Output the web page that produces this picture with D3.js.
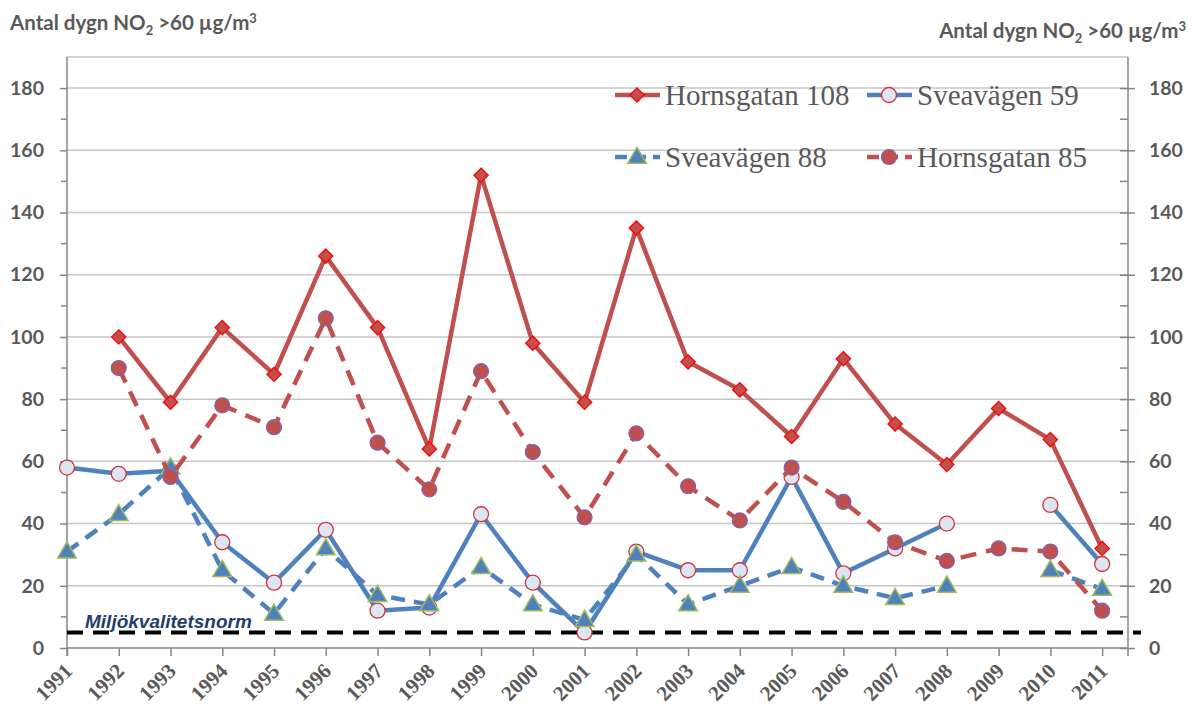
<!DOCTYPE html>
<html>
<head>
<meta charset="utf-8">
<script src="https://cdn.jsdelivr.net/npm/d3@7"></script>
<style>
  body { margin: 0; background: #fff; }
</style>
</head>
<body>
<div id="chart"></div>
<script>
// data
const years = ['1991','1992','1993','1994','1995','1996','1997','1998','1999','2000','2001',
               '2002','2003','2004','2005','2006','2007','2008','2009','2010','2011']
const horns108 = [null,100,79,103,88,126,103,64,152,98,79,135,92,83,68,93,72,59,77,67,32]
const svea59   = [58,56,57,34,21,38,12,13,43,21,5,31,25,25,55,24,32,40,null,46,27]
const svea88   = [31,43,58,25,11,32,17,14,26,14,9,30,14,20,26,20,16,20,null,25,19]
const horns85  = [null,90,55,78,71,106,66,51,89,63,42,69,52,41,58,47,34,28,32,31,12]
const yTicks = [0,20,40,60,80,100,120,140,160,180]
const normValue = 5

const w = 1192
const h = 708
const margin = { top: 57, right: 64, bottom: 60, left: 67 }
const innerBottom = 648

const svg = d3.select('#chart')
  .append('svg')
  .attr('width', w)
  .attr('height', h)

const xScale = d3.scaleLinear()
  .domain([0, 20.5])
  .range([margin.left, w - margin.right])

const yScale = d3.scaleLinear()
  .domain([0, 190])
  .range([innerBottom, margin.top])

const xPos = (d, i) => xScale(i)
const gray = '#595959'
const axisGray = '#868686'

// gridlines
svg.append('g')
  .selectAll('line')
  .data(yTicks.filter(t => t > 0).concat([190]))
  .enter()
  .append('line')
  .attr('x1', xScale.range()[0])
  .attr('x2', xScale.range()[1])
  .attr('y1', d => yScale(d))
  .attr('y2', d => yScale(d))
  .attr('stroke', '#c6c6c6')
  .attr('stroke-width', 1.5)

// y axes
const minor = d3.range(10, 190, 20)
const leftAxis = svg.append('g')
  .attr('transform', 'translate(' + margin.left + ',0)')
  .call(d3.axisLeft(yScale).tickValues(yTicks).tickSize(7).tickPadding(16))
leftAxis.append('g').selectAll('line').data(minor).enter().append('line')
  .attr('x1', -6).attr('x2', 0).attr('y1', d => yScale(d)).attr('y2', d => yScale(d))
const rightAxis = svg.append('g')
  .attr('transform', 'translate(' + xScale.range()[1] + ',0)')
  .call(d3.axisRight(yScale).tickValues(yTicks).tickSize(7).tickPadding(14))
rightAxis.selectAll('.tick line').attr('x1', -8)
rightAxis.append('g').selectAll('line').data(minor).enter().append('line')
  .attr('x1', -8).attr('x2', 0).attr('y1', d => yScale(d)).attr('y2', d => yScale(d))

;[leftAxis, rightAxis].forEach(ax => {
  ax.select('.domain').attr('d', 'M0,' + yScale(190) + 'V' + (innerBottom + 8))
  ax.selectAll('line, path').attr('stroke', axisGray).attr('stroke-width', 1.5)
  ax.selectAll('text')
    .attr('font-family', 'Lato, "Open Sans", sans-serif')
    .attr('font-weight', 'bold')
    .attr('font-size', 19.5)
    .attr('fill', gray)
})

// x axis
const xAxis = svg.append('g')
  .attr('transform', 'translate(0,' + innerBottom + ')')
  .call(d3.axisBottom(xScale).tickValues(d3.range(0, 21)).tickSize(8).tickFormat(i => years[i]))
xAxis.select('.domain').attr('d', 'M' + xScale.range()[0] + ',0H' + xScale.range()[1])
xAxis.selectAll('line, path').attr('stroke', axisGray).attr('stroke-width', 1.5)
xAxis.selectAll('text')
  .attr('font-family', '"Liberation Serif", "Times New Roman", serif')
  .attr('font-weight', 'bold')
  .attr('font-size', 21)
  .attr('fill', gray)
  .attr('text-anchor', 'end')
  .attr('x', 0)
  .attr('y', 0)
  .attr('dy', '0.35em')
  .attr('transform', 'translate(1,19) rotate(-45)')

// norm line
svg.append('line')
  .attr('x1', xScale(0))
  .attr('x2', xScale(20.75))
  .attr('y1', yScale(normValue))
  .attr('y2', yScale(normValue))
  .attr('stroke', '#000')
  .attr('stroke-width', 4)
  .attr('stroke-dasharray', '16,10')

svg.append('text')
  .attr('x', 85)
  .attr('y', 628)
  .attr('font-family', '"Liberation Sans", Arial, sans-serif')
  .attr('font-weight', 'bold')
  .attr('font-style', 'italic')
  .attr('font-size', 19)
  .attr('fill', '#1f3d6e')
  .text('Miljökvalitetsnorm')

// series
const series = [
  { name: 'Hornsgatan 108', values: horns108, color: '#c0504d', dash: null, marker: 'diamond' },
  { name: 'Sveavägen 59', values: svea59, color: '#4f81bd', dash: null, marker: 'circle' },
  { name: 'Sveavägen 88', values: svea88, color: '#4f81bd', dash: '14,9', marker: 'triangle' },
  { name: 'Hornsgatan 85', values: horns85, color: '#c0504d', dash: '16,10', marker: 'dot' }
]

function drawMarker(g, type, x, y) {
  if (type === 'diamond') {
    g.append('path')
      .attr('d', d3.symbol().type(d3.symbolDiamond2).size(130)())
      .attr('transform', 'translate(' + x + ',' + y + ')')
      .attr('fill', '#c0504d').attr('stroke', '#ff0000').attr('stroke-width', 1.3)
  } else if (type === 'circle') {
    g.append('circle').attr('cx', x).attr('cy', y).attr('r', 7.5)
      .attr('fill', '#dce6f2').attr('stroke', '#d0373a').attr('stroke-width', 1.3)
  } else if (type === 'triangle') {
    g.append('path')
      .attr('d', d3.symbol().type(d3.symbolTriangle).size(150)())
      .attr('transform', 'translate(' + x + ',' + (y + 1) + ')')
      .attr('fill', '#4f81bd').attr('stroke', '#9bbb59').attr('stroke-width', 1.5)
  } else {
    g.append('circle').attr('cx', x).attr('cy', y).attr('r', 7.5)
      .attr('fill', '#c0504d').attr('stroke', '#7f63b0').attr('stroke-width', 1.2)
  }
}

const line = d3.line()
  .defined(d => d != null)
  .x(xPos)
  .y(d => yScale(d))

series.forEach(s => {
  const g = svg.append('g')
  g.append('path')
    .datum(s.values)
    .attr('d', line)
    .attr('fill', 'none')
    .attr('stroke', s.color)
    .attr('stroke-width', 4.5)
    .attr('stroke-linejoin', 'round')
    .attr('stroke-dasharray', s.dash)
  s.values.forEach((v, i) => {
    if (v != null) drawMarker(g, s.marker, xScale(i), yScale(v))
  })
})

// legend
const legendPos = [[615, 95], [867, 95], [615, 157], [867, 157]]
series.forEach((s, i) => {
  const [lx, ly] = legendPos[i]
  const g = svg.append('g')
  g.append('line')
    .attr('x1', lx).attr('x2', lx + 45).attr('y1', ly).attr('y2', ly)
    .attr('stroke', s.color).attr('stroke-width', 4.5)
    .attr('stroke-dasharray', s.dash ? '12,7' : null)
  drawMarker(g, s.marker, lx + 22, ly)
  g.append('text')
    .attr('x', lx + 50)
    .attr('y', ly + 10)
    .attr('font-family', '"Liberation Serif", "Times New Roman", serif')
    .attr('font-size', 29)
    .attr('fill', gray)
    .text(s.name)
})

// axis titles
function axisTitle(x, y, anchor) {
  const t = svg.append('text')
    .attr('x', x).attr('y', y)
    .attr('text-anchor', anchor)
    .attr('font-family', 'Lato, "Open Sans", sans-serif')
    .attr('font-weight', 'bold')
    .attr('font-size', 20.5)
    .attr('fill', gray)
  t.append('tspan').text('Antal dygn NO')
  t.append('tspan').attr('font-size', 13).attr('dy', 5).text('2')
  t.append('tspan').attr('dy', -5).text(' >60 µg/m')
  t.append('tspan').attr('font-size', 13).attr('dy', -7).text('3')
}
axisTitle(10, 30, 'start')
axisTitle(1186, 38, 'end')
</script>
</body>
</html>
